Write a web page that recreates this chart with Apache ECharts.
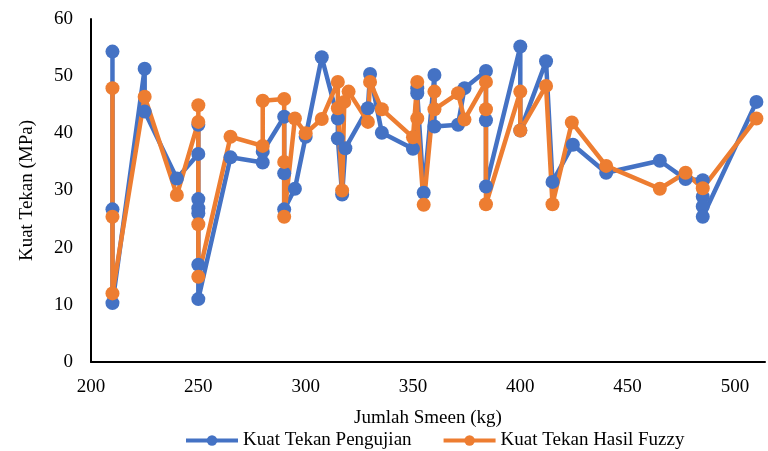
<!DOCTYPE html>
<html>
<head>
<meta charset="utf-8">
<script src="https://cdn.jsdelivr.net/npm/echarts@6/dist/echarts.min.js"></script>
<style>
  html, body { margin: 0; padding: 0; background: #fff; }
  #chart { width: 768px; height: 451px; }
</style>
</head>
<body>
<div id="chart"></div>
<script>
var seriesNames = ['Kuat Tekan Pengujian', 'Kuat Tekan Hasil Fuzzy'];
var colorList = ['#4472C4', '#ED7D31'];

// Kuat Tekan Pengujian
var pengujianX = [210, 210, 210, 225, 225, 240, 250, 250, 250, 250, 250, 250, 250, 265, 280, 280,
    290, 290, 290, 295, 300, 307.5, 315, 315, 317, 318.5, 329, 330, 335.5, 350, 352, 352, 355,
    360, 360, 371, 374, 384, 384, 384, 400, 400, 412, 415, 424.5, 440, 465, 477, 485, 485, 485, 485, 510];
var pengujianY = [54.3, 26.7, 10.3, 51.3, 43.8, 32.1, 36.4, 41.5, 28.5, 26.9, 26.0, 17.0, 11.0, 35.8, 34.9, 36.8,
    42.9, 33.0, 26.7, 30.3, 39.4, 53.3, 42.6, 39.1, 29.3, 37.4, 44.4, 50.4, 40.1, 37.3, 47.9, 47.0, 29.6,
    50.2, 41.2, 41.5, 47.9, 50.9, 42.3, 30.7, 55.2, 40.5, 52.6, 31.5, 38.0, 33.1, 35.2, 32.0, 31.8, 28.9, 27.2, 25.4, 45.5];

// Kuat Tekan Hasil Fuzzy
var fuzzyX = [210, 210, 210, 225, 240, 250, 250, 250, 250, 265, 280, 280, 290, 290, 290, 295, 300,
    307.5, 315, 315, 317, 318, 320, 329, 330, 335.5, 350, 352, 352, 355, 360, 360, 371, 374,
    384, 384, 384, 400, 400, 412, 415, 424, 440, 465, 477, 485, 510];
var fuzzyY = [47.9, 25.4, 12.0, 46.4, 29.2, 42.0, 44.9, 24.1, 14.9, 39.4, 37.8, 45.7, 46.0, 35.0, 25.4, 42.6, 40.0,
    42.5, 49.0, 44.4, 30.0, 45.5, 47.3, 42.0, 49.0, 44.2, 39.3, 49.0, 42.6, 27.5, 47.3, 44.2, 47.0, 42.4,
    49.0, 44.2, 27.6, 47.3, 40.5, 48.3, 27.6, 41.9, 34.3, 30.3, 33.1, 30.4, 42.6];

var xTicks = [200, 250, 300, 350, 400, 450, 500];
var yTicks = [0, 10, 20, 30, 40, 50, 60];

var font = 'Liberation Serif';

var toPairs = (xs, ys) => xs.map((x, i) => [x, ys[i]]);

var chart = echarts.init(document.getElementById('chart'));
chart.setOption({
    animation: false,
    grid: { left: 91, right: 0, top: 19, bottom: 89 },
    legend: {
        left: 179,
        top: 426,
        itemWidth: 52,
        itemHeight: 13,
        itemGap: 30,
        data: seriesNames,
        lineStyle: { width: 4 },
        textStyle: { fontFamily: font, fontSize: 19, color: '#000' }
    },
    xAxis: {
        type: 'value',
        min: 200,
        max: 514,
        interval: 50,
        name: 'Jumlah Smeen (kg)',
        nameLocation: 'middle',
        nameGap: 47,
        nameTextStyle: { fontFamily: font, fontSize: 19, color: '#000' },
        axisLine: { lineStyle: { color: '#000', width: 2 } },
        axisTick: { show: false },
        splitLine: { show: false },
        axisLabel: {
            fontFamily: font, fontSize: 19, color: '#000', margin: 16,
            formatter: (v) => xTicks.indexOf(v) >= 0 ? String(v) : ''
        }
    },
    yAxis: {
        type: 'value',
        min: 0,
        max: 60,
        interval: 10,
        name: 'Kuat Tekan (MPa)',
        nameLocation: 'middle',
        nameRotate: 90,
        nameGap: 54,
        nameTextStyle: { fontFamily: font, fontSize: 19, color: '#000' },
        axisLine: { show: true, lineStyle: { color: '#000', width: 2 } },
        axisTick: { show: false },
        splitLine: { show: false },
        axisLabel: {
            fontFamily: font, fontSize: 19, color: '#000', margin: 18,
            formatter: (v) => yTicks.indexOf(v) >= 0 ? String(v) : ''
        }
    },
    series: [
        {
            name: seriesNames[0],
            type: 'line',
            data: toPairs(pengujianX, pengujianY),
            symbol: 'circle',
            symbolSize: 14,
            color: colorList[0],
            lineStyle: { width: 4.5, color: colorList[0] },
            itemStyle: { color: colorList[0] }
        },
        {
            name: seriesNames[1],
            type: 'line',
            data: toPairs(fuzzyX, fuzzyY),
            symbol: 'circle',
            symbolSize: 14,
            color: colorList[1],
            lineStyle: { width: 4.5, color: colorList[1] },
            itemStyle: { color: colorList[1] }
        }
    ]
});
</script>
</body>
</html>
